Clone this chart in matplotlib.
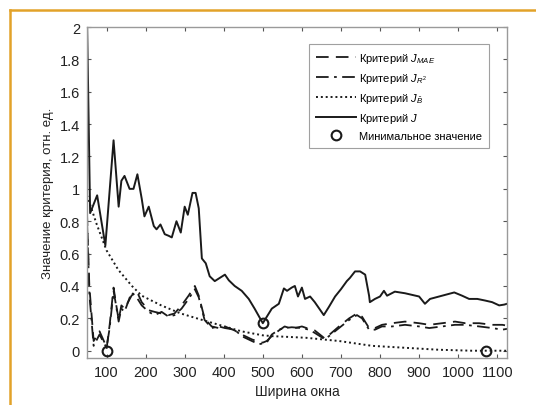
import matplotlib
matplotlib.use("Agg")
import matplotlib.pyplot as plt
from matplotlib.lines import Line2D
from matplotlib.ticker import FuncFormatter

# window width grid / values
x_mae = [50, 56, 67, 82, 95, 100, 108, 118, 123, 131, 138, 146, 164, 177, 190, 208, 223, 241,
         259, 274, 292, 310, 326, 336, 351, 369, 387, 403, 428, 446, 472, 490, 500, 510, 523,
         541, 556, 574, 600, 618, 633, 659, 695, 721, 741, 754, 772, 787, 805, 831, 864, 900,
         926, 959, 992, 1018, 1054, 1087, 1113, 1125]
j_mae = [0.85, 0.40, 0.06, 0.12, 0.05, 0.01, 0.16, 0.39, 0.31, 0.19, 0.28, 0.26, 0.34, 0.37,
         0.30, 0.25, 0.24, 0.23, 0.22, 0.23, 0.28, 0.34, 0.40, 0.34, 0.20, 0.15, 0.14, 0.15,
         0.125, 0.10, 0.07, 0.055, 0.05, 0.06, 0.09, 0.125, 0.15, 0.135, 0.15, 0.135, 0.125,
         0.075, 0.15, 0.20, 0.23, 0.21, 0.14, 0.14, 0.16, 0.17, 0.18, 0.17, 0.16, 0.17, 0.18,
         0.17, 0.17, 0.16, 0.16, 0.155]
j_r2 = [0.80, 0.35, 0.03, 0.10, 0.04, 0.02, 0.14, 0.37, 0.30, 0.18, 0.26, 0.24, 0.36, 0.33,
        0.28, 0.24, 0.22, 0.24, 0.21, 0.22, 0.26, 0.32, 0.38, 0.33, 0.19, 0.14, 0.15, 0.14,
        0.13, 0.09, 0.06, 0.04, 0.045, 0.05, 0.10, 0.13, 0.14, 0.145, 0.14, 0.13, 0.11, 0.07,
        0.14, 0.19, 0.22, 0.20, 0.13, 0.13, 0.15, 0.15, 0.16, 0.15, 0.14, 0.15, 0.16, 0.16,
        0.15, 0.14, 0.13, 0.135]

x_b = [50, 75, 100, 110, 130, 165, 190, 240, 290, 345, 395, 445, 500, 525, 610, 695, 780,
       865, 950, 1035, 1070, 1125]
j_b = [0.96, 0.78, 0.62, 0.58, 0.50, 0.40, 0.34, 0.28, 0.23, 0.19, 0.155, 0.12, 0.095, 0.09,
       0.08, 0.06, 0.03, 0.018, 0.006, 0.0, 0.0, 0.0]

x_j = [50, 58, 76, 97, 118, 131, 138, 146, 159, 169, 179, 190, 197, 208, 221, 228, 238, 249,
       259, 267, 279, 290, 300, 308, 320, 328, 336, 344, 354, 364, 377, 390, 403, 413, 428,
       446, 464, 479, 500, 523, 541, 554, 562, 574, 582, 590, 600, 608, 621, 633, 656, 669,
       685, 700, 715, 723, 736, 749, 762, 772, 774, 787, 800, 810, 818, 838, 864, 900, 915,
       928, 959, 990, 1010, 1028, 1049, 1069, 1087, 1105, 1118, 1125]
j_total = [2.05, 0.85, 0.96, 0.65, 1.30, 0.89, 1.05, 1.08, 1.0, 1.0, 1.09, 0.94, 0.83, 0.89,
           0.77, 0.75, 0.78, 0.72, 0.71, 0.70, 0.80, 0.73, 0.89, 0.84, 0.975, 0.975, 0.88,
           0.57, 0.54, 0.46, 0.43, 0.45, 0.47, 0.435, 0.40, 0.37, 0.32, 0.26, 0.17, 0.26,
           0.29, 0.385, 0.37, 0.39, 0.40, 0.335, 0.39, 0.32, 0.335, 0.30, 0.22, 0.27, 0.335,
           0.38, 0.43, 0.45, 0.49, 0.49, 0.47, 0.34, 0.30, 0.32, 0.335, 0.37, 0.34, 0.365,
           0.355, 0.335, 0.29, 0.32, 0.34, 0.36, 0.34, 0.32, 0.32, 0.31, 0.30, 0.28, 0.285,
           0.29]

x_min = [100, 500, 1070]
y_min = [0.0, 0.17, 0.0]

x_ticks = [100, 200, 300, 400, 500, 600, 700, 800, 900, 1000, 1100]
y_ticks = [0, 0.2, 0.4, 0.6, 0.8, 1, 1.2, 1.4, 1.6, 1.8, 2]

plt.rcParams["font.family"] = ["Liberation Sans", "DejaVu Sans"]
plt.rcParams["mathtext.fontset"] = "custom"
plt.rcParams["mathtext.it"] = "Liberation Sans:italic"
plt.rcParams["mathtext.rm"] = "Liberation Sans"

fig = plt.figure(figsize=(5.36, 4.06), dpi=100)
ax = fig.add_axes([87 / 536, 1 - 359 / 406, 420 / 536, 331 / 406])

ink = "#1a1a1a"
ax.plot(x_mae, j_mae, color=ink, lw=1.3, dashes=(7, 4), label="Критерий $J_{MAE}$")
ax.plot(x_mae, j_r2, color=ink, lw=1.3, dashes=(7, 3, 1.5, 3), label="Критерий $J_{R^2}$")
ax.plot(x_b, j_b, color=ink, lw=1.4, linestyle=(0, (1, 1.5)), label=r"Критерий $J_{\hat{B}}$")
ax.plot(x_j, j_total, color=ink, lw=1.4, label="Критерий $J$")
ax.plot(x_min, y_min, linestyle="none", marker="o", ms=7, mfc="none", mec=ink, mew=1.5,
        label="Минимальное значение")

ax.set_xlim(50, 1125)
ax.set_ylim(-0.045, 2.0)
ax.set_xticks(x_ticks)
ax.set_yticks(y_ticks)
ax.yaxis.set_major_formatter(FuncFormatter(lambda v, p: f"{v:g}"))
ax.tick_params(direction="in", top=True, right=True, length=3, width=0.8, color="#555555",
               labelsize=10.5, labelcolor="#222222", pad=5)
for s in ax.spines.values():
    s.set_color("#9a9a9a")
    s.set_linewidth(1.0)

ax.set_xlabel("Ширина окна", fontsize=10, color="#222222", labelpad=4)
ax.set_ylabel("Значение критерия, отн. ед.", fontsize=9.5, color="#222222", labelpad=4)

leg = ax.legend(loc="upper right", bbox_to_anchor=(0.97, 0.965), fontsize=8,
                handlelength=3.6, handletextpad=0.3, labelspacing=0.55, borderpad=0.6,
                fancybox=False, frameon=True, markerfirst=True)
leg.get_frame().set_edgecolor("#888888")
leg.get_frame().set_linewidth(0.8)

# orange frame visible on the left and top of the picture
orange = "#e2a229"
fig.add_artist(Line2D([9.5 / 536, 9.5 / 536], [0, 1 - 11 / 406], color=orange, lw=1.8,
                      transform=fig.transFigure))
fig.add_artist(Line2D([9.5 / 536, 1], [1 - 11 / 406, 1 - 11 / 406], color=orange, lw=1.8,
                      transform=fig.transFigure))

fig.savefig("out.png", dpi=100)
